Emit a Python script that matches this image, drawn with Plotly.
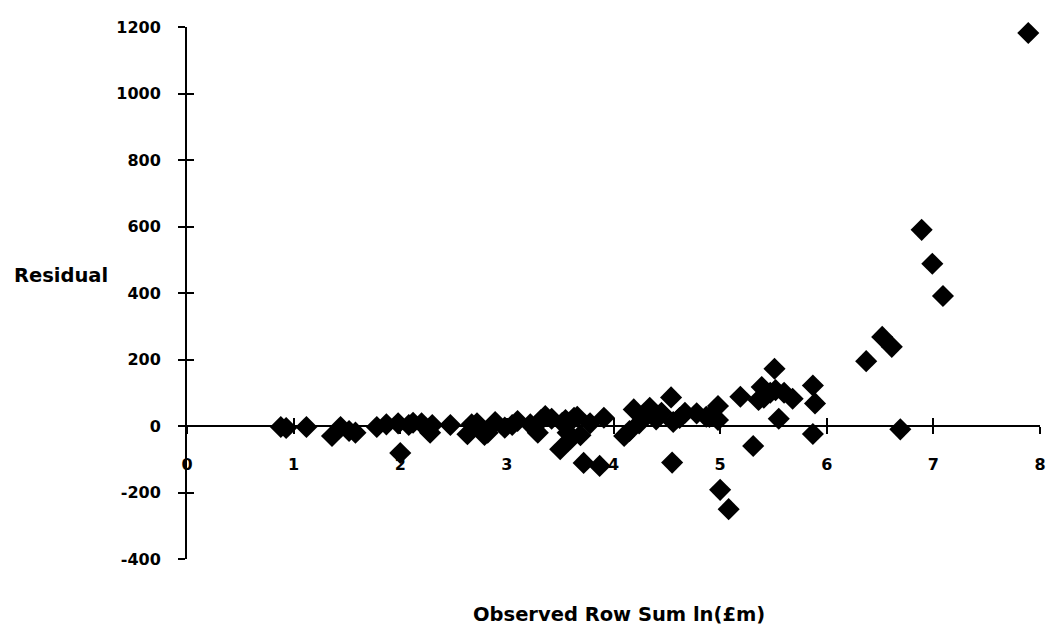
import plotly.graph_objects as go

# Observed row sum (log scale, £m) and the model residual for each row
row_sum_ln = [
    0.88, 0.93, 1.12, 1.36, 1.44, 1.52, 1.58, 1.78, 1.87, 2.00,
    1.98, 2.08, 2.12, 2.20, 2.28, 2.30, 2.47, 2.63, 2.67, 2.72,
    2.79, 2.82, 2.89, 2.98, 3.05, 3.10, 3.22, 3.29, 3.32, 3.36,
    3.42, 3.50, 3.52, 3.55, 3.57, 3.60, 3.63, 3.66, 3.69, 3.72,
    3.78, 3.87, 3.91, 4.10, 4.15, 4.19, 4.24, 4.30, 4.34, 4.40,
    4.45, 4.54, 4.55, 4.56, 4.62, 4.67, 4.78, 4.87, 4.90, 4.98,
    4.98, 5.00, 5.08, 5.19, 5.31, 5.36, 5.39, 5.41, 5.47, 5.51,
    5.52, 5.55, 5.60, 5.68, 5.87, 5.89, 5.87, 6.37, 6.52, 6.61,
    6.69, 6.89, 6.99, 7.09, 7.89,
]
residual = [
    -3, -6, -3, -30, -3, -15, -20, -3, 5, -81,
    8, 3, 10, 8, -20, 3, 3, -25, 5, 8,
    -27, -20, 12, -5, 3, 15, 5, -20, 18, 30,
    22, -70, 10, 18, -20, -38, 25, 28, -28, -111,
    8, -120, 25, -30, -15, 50, 8, 30, 55, 20,
    40, 86, -110, 12, 24, 40, 38, 28, 27, 60,
    18, -192, -250, 88, -60, 78, 117, 85, 100, 172,
    108, 22, 100, 82, 122, 68, -24, 195, 268, 238,
    -10, 590, 488, 391, 1182,
]

x_ticks = [0, 1, 2, 3, 4, 5, 6, 7, 8]
y_ticks = [-400, -200, 0, 200, 400, 600, 800, 1000, 1200]
y_tick_text = [str(v) for v in y_ticks]  # plain hyphen for negatives

FONT = "DejaVu Sans"
tick_font = dict(family=FONT, size=16, color="black", weight="bold")
title_font = dict(family=FONT, size=19.5, color="black", weight="bold")

fig = go.Figure()
fig.add_trace(go.Scatter(
    x=row_sum_ln, y=residual, mode="markers",
    marker=dict(symbol="diamond", size=17, color="black", line=dict(width=0)),
    cliponaxis=False, showlegend=False,
))

# The x axis runs along residual = 0, which sits at a quarter of the y span
zero_pos = (0 - y_ticks[0]) / (y_ticks[-1] - y_ticks[0])

common_x = dict(range=[0, 8], tickvals=x_ticks, showgrid=False, zeroline=False,
                showline=True, linecolor="black", linewidth=2,
                tickcolor="black", tickwidth=2, ticklen=7)
common_y = dict(range=[-400, 1200], tickvals=y_ticks, ticktext=y_tick_text,
                showgrid=False, zeroline=False,
                showline=True, linecolor="black", linewidth=2,
                tickcolor="black", tickwidth=2, ticklen=7, domain=[0, 1])

fig.update_layout(
    width=1053, height=629,
    margin=dict(l=187, r=7, t=27, b=70),
    paper_bgcolor="white", plot_bgcolor="white",
    xaxis=dict(**common_x, anchor="free", position=zero_pos, ticks="outside",
               tickfont=tick_font, ticklabelstandoff=17),
    xaxis2=dict(**common_x, anchor="free", position=zero_pos, overlaying="x",
                ticks="inside", showticklabels=False),
    yaxis=dict(**common_y, anchor="x", ticks="outside", tickfont=tick_font,
               ticklabelstandoff=14),
    yaxis2=dict(**common_y, anchor="x", overlaying="y", ticks="inside",
                showticklabels=False),
    annotations=[
        dict(text="Residual", xref="paper", yref="paper", x=-0.148, y=0.532,
             showarrow=False, font=title_font, xanchor="center", yanchor="middle"),
        dict(text="Observed Row Sum ln(£m)", xref="paper", yref="paper",
             x=0.506, y=-0.105, showarrow=False, font=title_font,
             xanchor="center", yanchor="middle"),
    ],
)

# Invisible trace that carries the second pair of axes (crossing tick marks)
fig.add_trace(go.Scatter(x=[None], y=[None], xaxis="x2", yaxis="y2",
                         showlegend=False, hoverinfo="skip"))

fig.write_html("out.html")
